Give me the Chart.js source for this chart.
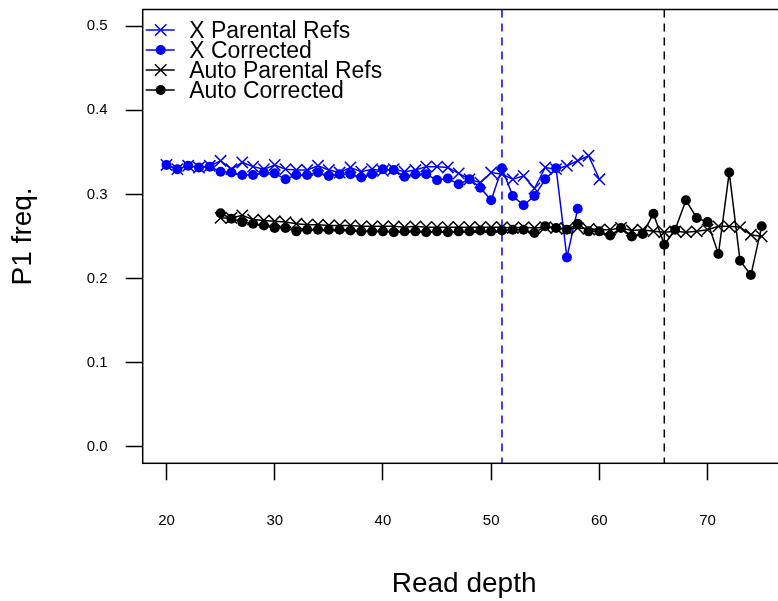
<!DOCTYPE html>
<html>
<head>
<meta charset="utf-8">
<script src="https://cdn.jsdelivr.net/npm/chart.js@4.4.0/dist/chart.umd.min.js"></script>
<style>
  html, body { margin: 0; padding: 0; background: #fff; overflow: hidden; }
  #chart { display: block; }
</style>
</head>
<body>
<canvas id="chart" width="800" height="601"></canvas>
<script>
// read depth values for each series
const xRefDepth = [20, 21, 22, 23, 24, 25, 26, 27, 28, 29, 30, 31, 32, 33, 34, 35, 36, 37, 38, 39, 40,
  41, 42, 43, 44, 45, 46, 47, 48, 49, 50, 51, 52, 53, 54, 55, 56, 57, 58, 59, 60];
const xRefFreq = [0.335, 0.330, 0.334, 0.332, 0.334, 0.340, 0.330, 0.338, 0.333, 0.330, 0.335,
  0.330, 0.329, 0.329, 0.334, 0.329, 0.326, 0.332, 0.327, 0.330, 0.328,
  0.330, 0.327, 0.329, 0.333, 0.333, 0.332, 0.325, 0.318, 0.314, 0.326,
  0.324, 0.318, 0.322, 0.307, 0.332, 0.330, 0.334, 0.340, 0.346, 0.318];

const xCorrDepth = [20, 21, 22, 23, 24, 25, 26, 27, 28, 29, 30, 31, 32, 33, 34, 35, 36, 37, 38, 39, 40,
  41, 42, 43, 44, 45, 46, 47, 48, 49, 50, 51, 52, 53, 54, 55, 56, 57, 58];
const xCorrFreq = [0.335, 0.330, 0.334, 0.332, 0.333, 0.327, 0.326, 0.323, 0.323, 0.326, 0.325,
  0.318, 0.323, 0.323, 0.326, 0.322, 0.324, 0.324, 0.320, 0.324, 0.330,
  0.329, 0.321, 0.324, 0.324, 0.317, 0.319, 0.312, 0.318, 0.308, 0.293,
  0.331, 0.298, 0.287, 0.298, 0.318, 0.331, 0.225, 0.283];

const autoDepth = [25, 26, 27, 28, 29, 30, 31, 32, 33, 34, 35, 36, 37, 38, 39, 40,
  41, 42, 43, 44, 45, 46, 47, 48, 49, 50, 51, 52, 53, 54, 55, 56, 57, 58, 59, 60,
  61, 62, 63, 64, 65, 66, 67, 68, 69, 70, 71, 72, 73, 74, 75];
const autoRefFreq = [0.272, 0.272, 0.275, 0.270, 0.269, 0.268, 0.267, 0.265, 0.264, 0.264, 0.263,
  0.263, 0.263, 0.262, 0.262, 0.262, 0.262, 0.261, 0.262, 0.261, 0.261,
  0.261, 0.261, 0.261, 0.261, 0.261, 0.261, 0.260, 0.261, 0.260, 0.261,
  0.260, 0.259, 0.260, 0.259, 0.258, 0.258, 0.260, 0.257, 0.258, 0.256,
  0.255, 0.256, 0.255, 0.256, 0.258, 0.262, 0.262, 0.261, 0.252, 0.250];
const autoCorrFreq = [0.2775, 0.271, 0.267, 0.265, 0.263, 0.260, 0.260, 0.256, 0.258, 0.258, 0.258,
  0.258, 0.257, 0.256, 0.256, 0.256, 0.255, 0.256, 0.256, 0.255, 0.256,
  0.255, 0.256, 0.256, 0.257, 0.256, 0.257, 0.258, 0.258, 0.254, 0.262,
  0.260, 0.258, 0.265, 0.256, 0.256, 0.251, 0.260, 0.250, 0.253, 0.277,
  0.240, 0.258, 0.293, 0.272, 0.267, 0.229, 0.326, 0.221, 0.204, 0.262];

const xTicks = [20, 30, 40, 50, 60, 70];
const yTicks = [0, 0.1, 0.2, 0.3, 0.4, 0.5];
const cutoffs = [51, 66];
const cutoffColors = ["#0000ff", "#000000"];

const seriesNames = ["X Parental Refs", "X Corrected", "Auto Parental Refs", "Auto Corrected"];

const FONT = "'Liberation Sans', Arial, Helvetica, sans-serif";

function toPoints(xs, ys) {
  return xs.map((x, i) => ({ x: x, y: ys[i] }));
}

function makeSet(label, xs, ys, color, style, order) {
  const isCross = style === "crossRot";
  return {
    label: label,
    data: toPoints(xs, ys),
    showLine: true,
    borderColor: color,
    backgroundColor: color,
    borderWidth: 1.5,
    pointStyle: style,
    pointRadius: isCross ? 8 : 5,
    pointBorderWidth: isCross ? 1.5 : 0,
    pointBorderColor: color,
    pointBackgroundColor: color,
    tension: 0,
    order: order,
  };
}

function noPadding(scale) {
  scale.paddingTop = 0;
  scale.paddingBottom = 0;
  scale.paddingLeft = 0;
  scale.paddingRight = 0;
}

// box, dashed cut-off lines and the legend inside the plot
const extras = {
  id: "extras",
  beforeDatasetsDraw(chart) {
    const ctx = chart.ctx;
    const area = chart.chartArea;
    const xs = chart.scales.x;
    ctx.save();
    ctx.lineWidth = 1.5;
    ctx.setLineDash([8, 6]);
    cutoffs.forEach((c, i) => {
      const px = xs.getPixelForValue(c);
      ctx.strokeStyle = cutoffColors[i];
      ctx.beginPath();
      ctx.moveTo(px, area.top);
      ctx.lineTo(px, area.bottom);
      ctx.stroke();
    });
    ctx.restore();
  },
  afterDraw(chart) {
    const ctx = chart.ctx;
    const area = chart.chartArea;
    ctx.save();
    ctx.strokeStyle = "#000";
    ctx.lineWidth = 1.5;
    ctx.strokeRect(area.left, area.top, area.right - area.left, area.bottom - area.top);

    const sets = chart.data.datasets;
    ctx.font = "23px " + FONT;
    ctx.textAlign = "left";
    ctx.textBaseline = "alphabetic";
    sets.forEach((ds, i) => {
      const y = area.top + 20.5 + i * 20;
      const x0 = area.left + 3;
      const x1 = area.left + 32;
      const cx = area.left + 18;
      ctx.strokeStyle = ds.borderColor;
      ctx.fillStyle = ds.borderColor;
      ctx.lineWidth = 1.5;
      ctx.beginPath();
      ctx.moveTo(x0, y);
      ctx.lineTo(x1, y);
      ctx.stroke();
      if (ds.pointStyle === "crossRot") {
        const r = 5.7;
        ctx.beginPath();
        ctx.moveTo(cx - r, y - r);
        ctx.lineTo(cx + r, y + r);
        ctx.moveTo(cx - r, y + r);
        ctx.lineTo(cx + r, y - r);
        ctx.stroke();
      } else {
        ctx.beginPath();
        ctx.arc(cx, y, 5, 0, Math.PI * 2);
        ctx.fill();
      }
      ctx.fillStyle = "#000";
      ctx.fillText(ds.label, area.left + 46.5, y + 8);
    });
    ctx.restore();
  },
};

new Chart(document.getElementById("chart"), {
  type: "scatter",
  data: {
    datasets: [
      makeSet(seriesNames[0], xRefDepth, xRefFreq, "#0000ff", "crossRot", 4),
      makeSet(seriesNames[1], xCorrDepth, xCorrFreq, "#0000ff", "circle", 3),
      makeSet(seriesNames[2], autoDepth, autoRefFreq, "#000000", "crossRot", 2),
      makeSet(seriesNames[3], autoDepth, autoCorrFreq, "#000000", "circle", 1),
    ],
  },
  options: {
    responsive: false,
    devicePixelRatio: 1,
    animation: false,
    events: [],
    layout: { padding: { top: 9, right: 14.5, left: 0, bottom: 0 } },
    plugins: {
      legend: { display: false },
      tooltip: { enabled: false },
    },
    scales: {
      x: {
        type: "linear",
        min: 17.8,
        max: 77.2,
        afterBuildTicks(scale) {
          scale.ticks = xTicks.map((v) => ({ value: v }));
        },
        afterFit(scale) {
          scale.height = 137.7;
          noPadding(scale);
        },
        border: { display: false },
        grid: {
          drawOnChartArea: false,
          drawTicks: true,
          tickLength: 17,
          tickColor: "#000",
          tickWidth: 1.5,
        },
        ticks: {
          color: "#000",
          padding: 32,
          maxRotation: 0,
          font: { family: FONT, size: 15 },
          callback: (v) => String(v),
        },
        title: {
          display: true,
          text: "Read depth",
          color: "#000",
          font: { family: FONT, size: 28 },
          padding: { top: 0, bottom: 0 },
        },
      },
      y: {
        type: "linear",
        min: -0.02,
        max: 0.52,
        afterBuildTicks(scale) {
          scale.ticks = yTicks.map((v) => ({ value: v }));
        },
        afterFit(scale) {
          scale.width = 142.7;
          noPadding(scale);
        },
        border: { display: false },
        grid: {
          drawOnChartArea: false,
          drawTicks: true,
          tickLength: 17,
          tickColor: "#000",
          tickWidth: 1.5,
        },
        ticks: {
          color: "#000",
          padding: 18,
          font: { family: FONT, size: 15 },
          callback: (v) => Number(v).toFixed(1),
        },
        title: {
          display: true,
          text: "P1 freq.",
          color: "#000",
          font: { family: FONT, size: 28 },
          padding: { top: 6, bottom: 0 },
        },
      },
    },
  },
  plugins: [extras],
});
</script>
</body>
</html>
